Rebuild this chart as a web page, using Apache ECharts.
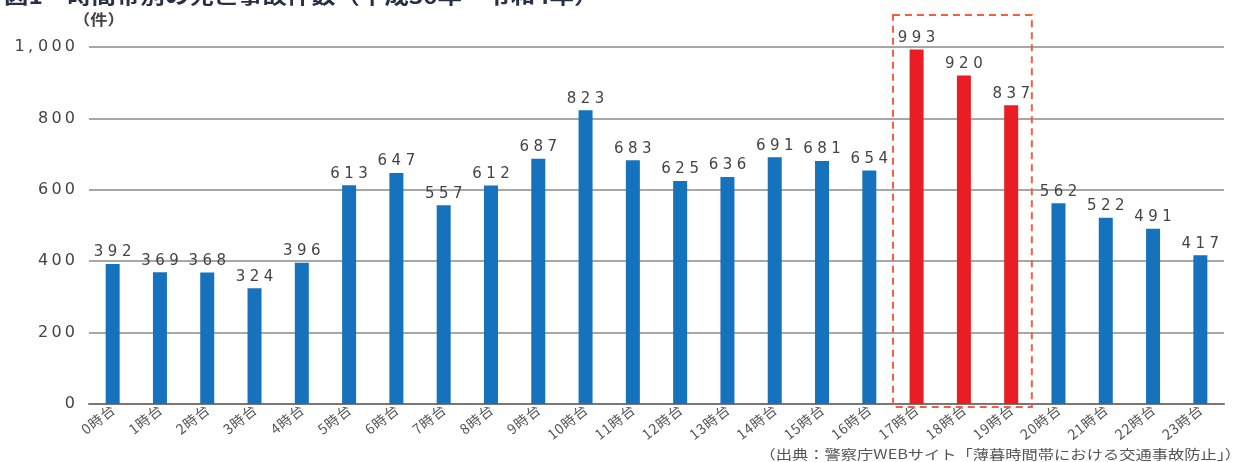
<!DOCTYPE html>
<html><head><meta charset="utf-8">
<script src="https://cdn.jsdelivr.net/npm/echarts@6/dist/echarts.min.js"></script>
<style>html,body{margin:0;padding:0;background:#fff}#c{width:1243px;height:462px}</style>
</head><body><div id="c"></div>
<script>
const categories = ['0時台','1時台','2時台','3時台','4時台','5時台','6時台','7時台','8時台','9時台','10時台','11時台','12時台','13時台','14時台','15時台','16時台','17時台','18時台','19時台','20時台','21時台','22時台','23時台'];
const values = [392,369,368,324,396,613,647,557,612,687,823,683,625,636,691,681,654,993,920,837,562,522,491,417];
const highlighted = ['17時台','18時台','19時台'];
const yTicks = [0,200,400,600,800,1000];
const titleText = '図1　時間帯別の死亡事故件数（平成30年〜令和4年）';
const unitText = '（件）';
const sourceText = '（出典：警察庁WEBサイト「薄暮時間帯における交通事故防止」）';

const BLUE = '#1672bd', RED = '#ea1c24';
const SP = '\u2009\u200A';
const spaced = (s, sp) => Array.from(s).join(sp);
const chart = echarts.init(document.getElementById('c'), null, {renderer:'canvas'});
const font = '"Noto Sans CJK JP", "Noto Sans", sans-serif';
const numFont = '"DejaVu Sans", sans-serif';
chart.setOption({
  animation:false,
  grid:{left:89, right:19, top:47, bottom:58},
  xAxis:{type:'category', data:categories,
    axisLine:{show:true, lineStyle:{color:'#777', width:2}},
    axisTick:{show:false},
    axisLabel:{rotate:38, interval:0, fontSize:14, color:'#555', margin:4, fontFamily:font,
      formatter:v=>spaced(v,'\u200A')}},
  yAxis:{type:'value', min:0, max:1000, interval:200,
    axisLine:{show:false}, axisTick:{show:false},
    splitLine:{lineStyle:{color:'#8a8a8a', width:1.5}},
    axisLabel:{fontSize:16, color:'#444', margin:14, fontFamily:numFont,
      formatter:v=>{
        if(!yTicks.includes(v)) return '';
        if(v>=1000){ const s=String(v); return s.slice(0,s.length-3)+'\u2009, '+spaced(s.slice(-3),'\u2009'); }
        return spaced(String(v),'\u2009');
      }}},
  graphic:[
    {type:'text', x:4, y:6, scaleX:1.22, style:{text:titleText, fontSize:20, fontWeight:'bold', fill:'#2a2f48', fontFamily:font, textVerticalAlign:'bottom', verticalAlign:'bottom'}},
    {type:'text', x:73, y:12, scaleX:1.15, style:{text:unitText, fontSize:15, fontWeight:'bold', fill:'#444', fontFamily:font}},
    {type:'text', x:1241, y:461, scaleX:1.25, style:{text:sourceText, fontSize:13, fill:'#555', fontFamily:font, textAlign:'right', align:'right', textVerticalAlign:'bottom', verticalAlign:'bottom'}}
  ],
  series:[{type:'bar', barWidth:14,
    data: values.map((v,i)=>({value:v, itemStyle:{color: highlighted.includes(categories[i]) ? RED : BLUE}})),
    label:{show:true, position:'top', distance:4, fontSize:15, color:'#444', fontFamily:numFont,
      formatter:p=>spaced(String(p.value),SP)}
  }]
});
// dashed box around highlighted bands, computed through the axis scale
const i0 = categories.indexOf(highlighted[0]), i1 = categories.indexOf(highlighted[highlighted.length-1]);
const p0 = chart.convertToPixel({xAxisIndex:0, yAxisIndex:0}, [i0, 0]);
const p1 = chart.convertToPixel({xAxisIndex:0, yAxisIndex:0}, [i1, 0]);
const band = (p1[0]-p0[0])/(i1-i0);
chart.setOption({graphic:[{}, {}, {}, {type:'rect', shape:{x:p0[0]-band/2, y:15, width:(p1[0]-p0[0])+band-3, height:p0[1]+3-15},
  style:{fill:'none', stroke:'#f0603e', lineWidth:2, lineDash:[7,5]}, z:10}]});
</script></body></html>
